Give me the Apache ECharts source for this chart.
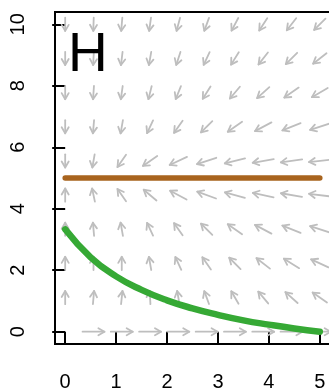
<!DOCTYPE html>
<html>
<head>
<meta charset="utf-8">
<script src="https://cdn.jsdelivr.net/npm/echarts@6/dist/echarts.min.js"></script>
<style>
html,body{margin:0;padding:0;background:#fff;}
#chart{width:329px;height:392px;}
</style>
</head>
<body>
<div id="chart"></div>
<script>
// ---- data ----
const xTicks = [0, 1, 2, 3, 4, 5];
const yTicks = [0, 2, 4, 6, 8, 10];
// arrow grid positions
const arrowX = [0, 0.556, 1.111, 1.667, 2.222, 2.778, 3.333, 3.889, 4.444, 5];
const arrowY = [10, 8.889, 7.778, 6.667, 5.556, 4.444, 3.333, 2.222, 1.111, 0];
// arrow direction on screen, degrees (0 = right, 90 = up), one row per arrowY
const arrowAngle = [
  [-90, -92, -95, -98, -105, -110, -118, -123, -128, -135],
  [-90, -93, -97, -100, -108, -115, -122, -128, -135, -142],
  [-90, -94, -98, -104, -112, -122, -130, -138, -145, -150],
  [-90, -95, -100, -115, -125, -135, -145, -152, -158, -162],
  [-90, -100, -125, -145, -155, -162, -166, -170, -172, -174],
  [90, 102, 125, 140, 152, 160, 165, 168, 170, 173],
  [90, 95, 100, 115, 125, 135, 145, 152, 158, 162],
  [90, 90, 90, 100, 115, 125, 135, 142, 148, 155],
  [90, 85, 84, 93, 100, 110, 120, 130, 138, 145],
  [null, 0, 0, 0, 0, 0, 0, 0, 0, 0]
];
// green curve
const greenX = [0, 0.5, 1, 1.5, 2, 2.5, 3, 3.5, 4, 4.5, 5];
const greenY = [3.33, 2.42, 1.80, 1.36, 1.02, 0.76, 0.55, 0.37, 0.23, 0.105, 0.0];
// brown line
const brownX = [0, 5];
const brownY = [5, 5];
const panelLabel = 'H';

// ---- build ----
const arrowData = [];
arrowY.forEach((yv, r) => {
  arrowX.forEach((xv, c) => {
    const a = arrowAngle[r][c];
    if (a !== null) arrowData.push([xv, yv, a]);
  });
});
const ARROW_LEN = 0.43; // in data units
function renderArrow(params, api) {
  const x = api.value(0), y = api.value(1), ang = api.value(2) * Math.PI / 180;
  const s = api.size([1, 1]);
  let ux = Math.cos(ang) / s[0], uy = Math.sin(ang) / s[1];
  const n = Math.hypot(ux, uy); ux /= n; uy /= n;
  const h = ARROW_LEN / 2;
  const p0 = api.coord([x - ux * h, y - uy * h]);
  const p1 = api.coord([x + ux * h, y + uy * h]);
  const dx = p1[0] - p0[0], dy = p1[1] - p0[1];
  const len = Math.hypot(dx, dy);
  const bx = dx / len, by = dy / len;
  const hl = 7, ca = Math.cos(Math.PI / 6), sa = Math.sin(Math.PI / 6);
  const left = [p1[0] - hl * (bx * ca - by * sa), p1[1] - hl * (by * ca + bx * sa)];
  const right = [p1[0] - hl * (bx * ca + by * sa), p1[1] - hl * (by * ca - bx * sa)];
  const st = { stroke: '#BEBEBE', lineWidth: 1.8, fill: null, lineCap: 'round', lineJoin: 'round' };
  return {
    type: 'group',
    children: [
      { type: 'polyline', shape: { points: [p0, p1] }, style: st },
      { type: 'polyline', shape: { points: [left, p1, right] }, style: st }
    ]
  };
}

const chart = echarts.init(document.getElementById('chart'), null, { renderer: 'canvas' });
const font = 'Liberation Sans, Arial, Helvetica, sans-serif';
chart.setOption({
  animation: false,
  backgroundColor: '#ffffff',
  grid: {
    left: 55, top: 12, width: 275, height: 332,
    show: true, borderColor: '#000', borderWidth: 2, backgroundColor: 'transparent',
    containLabel: false, outerBoundsMode: 'none'
  },
  xAxis: {
    type: 'value', min: -0.2, max: 5.2,
    axisLine: { show: false },
    splitLine: { show: false },
    axisTick: { show: true, customValues: xTicks, length: 13, inside: false, lineStyle: { color: '#000', width: 2 } },
    axisLabel: { show: true, customValues: xTicks, margin: 28, color: '#000', fontSize: 20, fontFamily: font,
      formatter: v => String(v) }
  },
  yAxis: {
    type: 'value', min: -0.4, max: 10.4,
    axisLine: { show: false },
    splitLine: { show: false },
    axisTick: { show: true, customValues: yTicks, length: 13, inside: false, lineStyle: { color: '#000', width: 2 } },
    axisLabel: { show: true, customValues: yTicks, margin: 27, rotate: 90, color: '#000', fontSize: 20, fontFamily: font,
      formatter: v => String(v) }
  },
  series: [
    {
      type: 'custom', renderItem: renderArrow, data: arrowData,
      encode: { x: 0, y: 1 }, clip: false, silent: true, z: 1
    },
    {
      type: 'line', data: brownX.map((v, i) => [v, brownY[i]]),
      symbol: 'none', lineStyle: { color: '#A8641E', width: 5.5, cap: 'round' }, z: 3, silent: true
    },
    {
      type: 'line', data: greenX.map((v, i) => [v, greenY[i]]), smooth: true,
      symbol: 'none', lineStyle: { color: '#36A935', width: 6.5, cap: 'round' }, z: 4, silent: true
    }
  ],
  graphic: [
    { type: 'text', left: 68, top: 28, z: 100,
      style: { text: panelLabel, fontSize: 55, fontFamily: font, fill: '#000' } }
  ]
});
</script>
</body>
</html>
